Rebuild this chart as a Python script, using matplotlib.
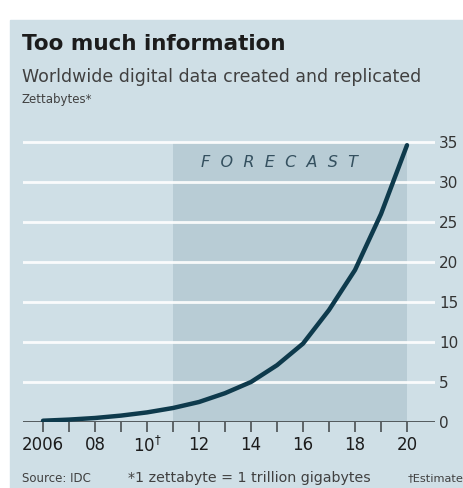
import numpy as np
import matplotlib.pyplot as plt
from matplotlib.patches import Rectangle

# data (zettabytes)
years = [2006, 2007, 2008, 2009, 2010, 2011, 2012, 2013, 2014, 2015, 2016, 2017, 2018, 2019, 2020]
zettabytes = [0.16, 0.3, 0.5, 0.8, 1.2, 1.75, 2.5, 3.6, 5.0, 7.1, 9.8, 14.0, 19.0, 26.0, 34.6]
forecast_span = [2011, 2020]
xtick_years = [2006, 2008, 2010, 2012, 2014, 2016, 2018, 2020]
xtick_labels = ["2006", "08", r"10$^{\dagger}$", "12", "14", "16", "18", "20"]
ytick_values = [0, 5, 10, 15, 20, 25, 30, 35]

panel = "#cfdfe6"
shade = "#b8ccd5"
line_col = "#0e3a4c"
txt = "#1c1c1c"

W, H = 464, 488
fig = plt.figure(figsize=(W / 100, H / 100), dpi=100)
fig.patch.set_facecolor("white")
fig.patches.append(Rectangle((10 / W, 0), 1 - 10 / W, 1 - 20 / H,
                             transform=fig.transFigure, color=panel, zorder=-10))

ax = fig.add_axes([23 / W, 1 - 422 / H, 412 / W, 288 / H])
ax.set_facecolor("none")
ax.set_xlim(2006 - 20 / 26, 2006 + 392 / 26)
ax.set_ylim(0, 36)

# forecast shading
ax.fill_between(forecast_span, 0, 34.9, color=shade, lw=0, zorder=1)
ax.text(np.mean(forecast_span) - 0.4, 32.4, "F  O  R  E  C  A  S  T", style="italic",
        fontsize=11.5, color="#34505f", ha="center", va="center", zorder=3)

# gridlines
for v in ytick_values[1:]:
    ax.axhline(v, color="white", lw=2, alpha=0.9, zorder=2)
ax.axhline(0, color="#4a4f52", lw=1.3, zorder=3)

ax.plot(years, zettabytes, color=line_col, lw=3.2, solid_capstyle="round",
        solid_joinstyle="round", zorder=4)

for s in ax.spines.values():
    s.set_visible(False)

ax.set_xticks(years)
ax.set_xticklabels([xtick_labels[xtick_years.index(y)] if y in xtick_years else "" for y in years],
                   fontsize=12, color=txt)
ax.tick_params(axis="x", length=7, width=1.2, color="#4a4f52", pad=3)

ax.yaxis.tick_right()
ax.set_yticks(ytick_values)
ax.set_yticklabels([str(v) for v in ytick_values], fontsize=11, color="#333333")
ax.tick_params(axis="y", length=0, pad=3)

fig.text(22 / W, 1 - 44 / H, "Too much information", fontsize=15.5, fontweight="bold",
         color=txt, ha="left", va="center")
fig.text(22 / W, 1 - 77 / H, "Worldwide digital data created and replicated",
         fontsize=12.5, color="#404040", ha="left", va="center")
fig.text(22 / W, 1 - 100 / H, "Zettabytes*", fontsize=8.5, color="#404040",
         ha="left", va="center")

fig.text(22 / W, 1 - 478 / H, "Source: IDC", fontsize=8.5, color="#404040",
         ha="left", va="center")
fig.text(128 / W, 1 - 478 / H, "*1 zettabyte = 1 trillion gigabytes", fontsize=10.3,
         color="#404040", ha="left", va="center")
fig.text(408 / W, 1 - 478 / H, "\u2020Estimate", fontsize=8.2, color="#404040",
         ha="left", va="center")

fig.savefig("out.png", dpi=100)
